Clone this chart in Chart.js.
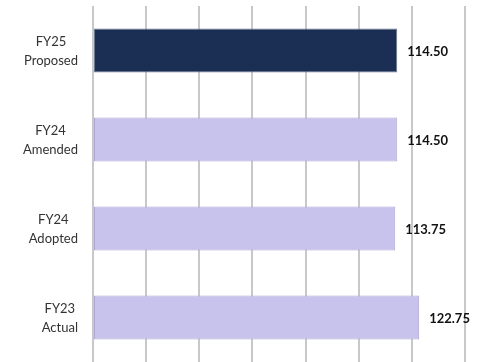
<!DOCTYPE html>
<html>
<head>
<meta charset="utf-8">
<script src="https://cdn.jsdelivr.net/npm/chart.js@4"></script>
<style>
  html, body { margin: 0; padding: 0; background: #fff; }
  #wrap { width: 484px; height: 362px; position: relative; }
</style>
</head>
<body>
<div id="wrap"><canvas id="c"></canvas></div>
<script>
const categories = [["FY25", "Proposed"], ["FY24", "Amended"], ["FY24", "Adopted"], ["FY23", "Actual"]];
const values = [114.50, 114.50, 113.75, 122.75];
const valueLabels = ["114.50", "114.50", "113.75", "122.75"];
const barColors = ["#1b2f55", "#c8c3ec", "#c8c3ec", "#c8c3ec"];
const barBorders = ["#6b7896", "#aea8d6", "#aea8d6", "#aea8d6"];

const labelPlugin = {
  id: 'labels',
  afterDatasetsDraw(chart) {
    const ctx = chart.ctx;
    const meta = chart.getDatasetMeta(0);
    const xs = chart.scales.x;
    const ys = chart.scales.y;
    ctx.save();
    // value labels
    ctx.font = 'bold 13px Lato';
    ctx.fillStyle = '#111';
    ctx.textAlign = 'left';
    ctx.textBaseline = 'middle';
    values.forEach((v, i) => {
      const x = xs.getPixelForValue(v) + 10;
      const y = ys.getPixelForValue(i) + 1;
      ctx.fillText(valueLabels[i], x, y);
    });
    // category labels: block right-aligned, lines centered within block
    ctx.font = '13px Lato';
    ctx.fillStyle = '#333';
    ctx.textAlign = 'center';
    const lh = 19;
    const right = xs.left - 15;
    categories.forEach((lines, i) => {
      const w = Math.max(...lines.map(l => ctx.measureText(l).width));
      const cx = right - w / 2;
      const cy = ys.getPixelForValue(i) + 1;
      lines.forEach((l, k) => {
        ctx.fillText(l, cx, cy + (k - (lines.length - 1) / 2) * lh);
      });
    });
    ctx.restore();
  }
};

new Chart(document.getElementById('c'), {
  type: 'bar',
  data: {
    labels: categories,
    datasets: [{
      data: values,
      backgroundColor: barColors,
      borderColor: barBorders,
      borderWidth: 1,
      borderSkipped: false,
      categoryPercentage: 1,
      barPercentage: 0.495
    }]
  },
  options: {
    indexAxis: 'y',
    responsive: true,
    maintainAspectRatio: false,
    animation: false,
    layout: { padding: { left: 93, right: 19, top: 6, bottom: 0 } },
    plugins: { legend: { display: false }, tooltip: { enabled: false } },
    scales: {
      x: {
        min: 0, max: 140,
        ticks: { display: false, stepSize: 20 },
        grid: { color: '#c8c8c8', lineWidth: 2, drawTicks: false },
        border: { display: false }
      },
      y: {
        ticks: { display: false },
        grid: { display: false, drawTicks: false },
        border: { display: false }
      }
    }
  },
  plugins: [labelPlugin]
});
</script>
</body>
</html>
